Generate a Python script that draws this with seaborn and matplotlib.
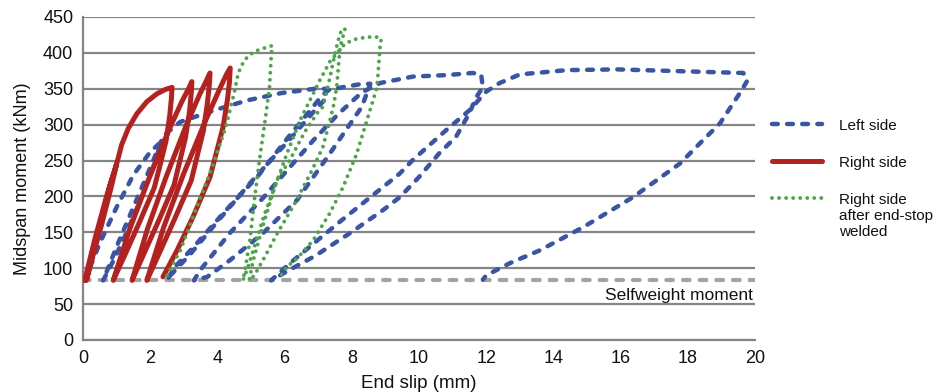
import matplotlib
matplotlib.use("Agg")
import matplotlib.pyplot as plt
import seaborn as sns
from matplotlib.lines import Line2D
from matplotlib.legend_handler import HandlerLine2D

# ---------------- data ----------------
x_ticks = [0, 2, 4, 6, 8, 10, 12, 14, 16, 18, 20]
y_ticks = [0, 50, 100, 150, 200, 250, 300, 350, 400, 450]
selfweight_moment = 83

# Left side (blue dashed) – hysteresis path
left_x = [0.05, 0.5, 1.0, 1.5, 2.0, 2.3,
          2.2, 1.8, 1.3, 0.9, 0.6,
          1.0, 1.5, 2.0, 2.4, 2.9, 3.9, 4.9, 5.9, 6.9, 7.25,
          7.2, 6.9, 6.16, 5.0, 4.0, 3.2, 2.6, 2.5,
          2.7, 3.3, 4.2, 5.2, 6.2, 6.8, 7.1, 7.3, 7.7, 8.2, 8.55,
          8.3, 7.35, 6.37, 5.36, 4.37, 3.7, 3.3,
          3.5, 4.37, 5.36, 6.16, 6.85, 7.6, 8.3, 8.84, 9.82, 10.8, 11.6, 11.85,
          11.9, 11.7, 11.5, 11.1, 10.6, 10.0, 9.43, 8.93, 7.95, 6.9, 6.16, 5.6,
          6.16, 7.65, 9.43, 9.82, 10.8, 11.5, 12.0, 12.4, 13.0, 14.4, 15.9, 17.4, 18.9, 19.65, 19.78,
          19.55, 18.96, 18.36, 17.77, 16.37, 14.88, 13.6, 12.7, 12.0, 11.9]
left_y = [83, 135, 185, 230, 262, 275,
          255, 205, 150, 110, 83,
          130, 185, 240, 285, 304, 320, 334, 344, 350, 350,
          335, 320, 280, 220, 165, 120, 90, 83,
          100, 130, 178, 228, 288, 322, 340, 348, 352, 356, 357,
          325, 260, 195, 149, 111, 88, 83,
          98, 149, 198, 241, 278, 315, 345, 358, 367, 369, 372, 370,
          352, 338, 316, 283, 260, 227, 199, 181, 149, 117, 98, 83,
          107, 165, 232, 251, 292, 320, 346, 358, 370, 376, 377, 375, 373, 372, 362,
          344, 302, 274, 246, 199, 157, 125, 107, 90, 84]

# Right side (red solid)
right_x = [0.05, 0.35, 0.7, 1.0, 0.85, 0.55, 0.25, 0.1,
           0.45, 0.8, 1.0, 1.15, 1.35, 1.6, 1.9, 2.2, 2.45, 2.65,
           2.63, 2.58, 2.47, 2.28, 2.12, 1.68, 1.27, 0.9,
           1.37, 1.93, 2.54, 2.94, 3.14, 3.24,
           3.22, 3.17, 3.05, 2.71, 2.25, 1.83, 1.46,
           1.92, 2.48, 3.08, 3.48, 3.68, 3.78,
           3.76, 3.70, 3.58, 3.22, 2.74, 2.29, 1.9,
           2.40, 2.99, 3.64, 4.06, 4.27, 4.38,
           4.36, 4.30, 4.17, 3.78, 3.27, 2.8, 2.38]
right_y = [83, 140, 200, 245, 215, 160, 110, 83,
           150, 215, 245, 272, 295, 315, 332, 343, 349, 352,
           336, 312, 277, 241, 212, 164, 121, 83,
           152, 221, 291, 332, 350, 360,
           343, 318, 282, 216, 166, 122, 83,
           155, 228, 300, 343, 362, 372,
           355, 329, 291, 222, 170, 123, 83,
           157, 231, 305, 349, 370, 379,
           360, 335, 297, 227, 171, 125, 88]

# Right side after end-stop welded (green dotted)
welded_x = [2.5, 2.9, 3.35, 3.85, 4.25, 4.5, 4.62, 4.75, 4.9, 5.1, 5.35, 5.55, 5.63,
            5.6, 5.55, 5.42, 5.25, 5.1, 4.97, 4.85, 4.76,
            4.9, 5.1, 5.4, 5.8, 6.16, 6.6, 7.0, 7.14, 7.3, 7.44, 7.58, 7.68, 7.8,
            7.75, 7.65, 7.6, 7.55, 7.45, 7.35, 7.14, 6.8, 6.3, 5.8, 5.4, 5.1, 4.95,
            5.06, 5.36, 5.7, 6.07, 6.5, 7.05, 7.35, 7.6, 7.8, 8.1, 8.45, 8.84, 8.88,
            8.84, 8.75, 8.45, 8.15, 7.74, 7.35, 6.85, 6.4, 6.07, 5.8]
welded_y = [90, 125, 181, 241, 297, 344, 372, 385, 395, 402, 406, 409, 410,
            394, 352, 306, 250, 195, 140, 105, 83,
            100, 130, 175, 225, 251, 290, 318, 325, 355, 386, 415, 430, 434,
            425, 408, 380, 352, 325, 306, 269, 235, 190, 150, 115, 90, 83,
            110, 160, 212, 260, 310, 362, 388, 402, 413, 419, 422, 422, 415,
            408, 352, 306, 260, 213, 177, 139, 115, 102, 83]

labels = ["Left side", "Right side", "Right side\nafter end-stop\nwelded"]

# ---------------- style ----------------
sns.set_style("white")
plt.rcParams["font.family"] = ["Liberation Sans", "DejaVu Sans"]

BLUE = "#3a55a5"
RED = "#b5211f"
GREEN = "#4ea548"
GRID = "#858585"
SW = "#a3a3a3"
TXT = "#111111"

fig = plt.figure(figsize=(9.36, 3.92), dpi=100)
ax = fig.add_axes([83 / 936, 1 - 340 / 392, (755 - 83) / 936, (340 - 17) / 392])

ax.set_xlim(0, 20)
ax.set_ylim(0, 450)
ax.set_xticks(x_ticks)
ax.set_yticks(y_ticks)
ax.yaxis.grid(True, color=GRID, lw=1.6, zorder=0)
ax.set_axisbelow(True)
for s in ["top", "right"]:
    ax.spines[s].set_visible(False)
for s in ["left", "bottom"]:
    ax.spines[s].set_color(GRID)
    ax.spines[s].set_linewidth(1.6)
ax.tick_params(axis="both", direction="out", length=5, width=1.4, color=GRID,
               labelsize=13, labelcolor=TXT, pad=2)

# selfweight line
ax.axhline(selfweight_moment, color=SW, lw=3.0, linestyle=(0, (1.6, 2.4)),
           dash_capstyle="round", zorder=1)
ax.text(19.95, selfweight_moment - 11, "Selfweight moment", ha="right", va="top",
        fontsize=12.5, color=TXT)

blue_ls = (0, (1.3, 2.1))
green_ls = (0, (0.01, 1.8))

sns.lineplot(x=left_x, y=left_y, sort=False, estimator=None, ax=ax, color=BLUE,
             lw=3.2, linestyle=blue_ls, dash_capstyle="round", zorder=2, legend=False)
sns.lineplot(x=right_x, y=right_y, sort=False, estimator=None, ax=ax, color=RED,
             lw=3.6, solid_capstyle="round", solid_joinstyle="round", zorder=3, legend=False)
sns.lineplot(x=welded_x, y=welded_y, sort=False, estimator=None, ax=ax, color=GREEN,
             lw=2.8, linestyle=green_ls, dash_capstyle="round", zorder=4, legend=False)

ax.set_xlabel("End slip (mm)", fontsize=13.5, labelpad=6, color=TXT)
ax.set_ylabel("Midspan moment (kNm)", fontsize=13, labelpad=9, color=TXT)


class TopLineHandler(HandlerLine2D):
    """Place the legend sample next to the first line of a multi-line label."""

    def __init__(self, shift, **kw):
        super().__init__(**kw)
        self.shift = shift

    def create_artists(self, legend, orig_handle, xdescent, ydescent, width, height,
                       fontsize, trans):
        arts = super().create_artists(legend, orig_handle, xdescent, ydescent, width,
                                      height, fontsize, trans)
        for a in arts:
            a.set_ydata([y + self.shift for y in a.get_ydata()])
        return arts


handles = [
    Line2D([], [], color=BLUE, lw=3.2, linestyle=blue_ls, dash_capstyle="round"),
    Line2D([], [], color=RED, lw=3.6, solid_capstyle="round"),
    Line2D([], [], color=GREEN, lw=2.8, linestyle=green_ls, dash_capstyle="round"),
]
leg_fs = 11
fig.legend(handles, labels, loc="upper left", bbox_to_anchor=(758 / 936, 1 - 105 / 392),
           frameon=False, fontsize=leg_fs, handlelength=3.3, handletextpad=1.1,
           labelspacing=1.5, labelcolor=TXT,
           handler_map={handles[2]: TopLineHandler(shift=leg_fs * 1.2)})

fig.savefig("out.png", dpi=100)
